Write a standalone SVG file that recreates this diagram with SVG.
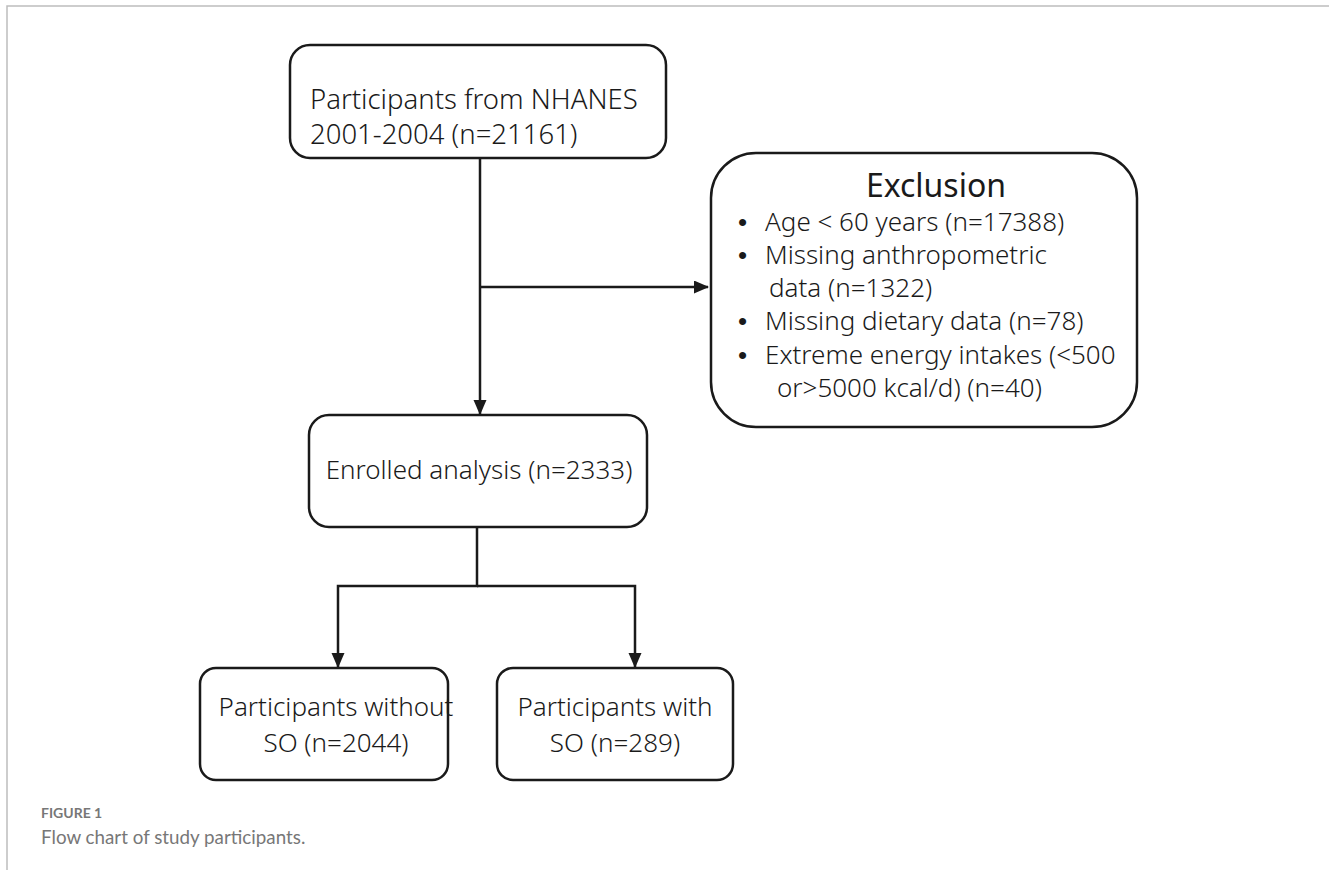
<svg xmlns="http://www.w3.org/2000/svg" width="1329" height="870" viewBox="0 0 1329 870">
<style>
.box{fill:#fff;stroke:#1a1a1a;stroke-width:2.5}
.t{font-family:"Noto Sans","Open Sans","Liberation Sans",sans-serif;font-weight:300;fill:#1a1a1a;font-size:26px}
.big{font-size:27.5px}
.title{font-size:32px;font-weight:400}
.bul{font-family:"Liberation Sans",sans-serif;font-size:26px;fill:#1a1a1a}
.con{stroke:#1a1a1a;stroke-width:2.5;fill:none}
.cap{font-family:"Lato","Open Sans","Liberation Sans",sans-serif;fill:#777}
</style>
<defs>
<marker id="ah" markerWidth="15" markerHeight="14" refX="14" refY="6.5" orient="auto" markerUnits="userSpaceOnUse">
<path d="M0,0 L15,6.5 L0,13 Z" fill="#1a1a1a"/>
</marker>
</defs>
<rect width="1329" height="870" fill="#fff"/>
<path d="M7,870 V6 H1329" fill="none" stroke="#bdbdbd" stroke-width="1.5"/>
<g id="connectors">
<path class="con" d="M480,158 V414" marker-end="url(#ah)"/>
<path class="con" d="M480,287 H708" marker-end="url(#ah)"/>
<path class="con" d="M477,527 V586 H338 V667" marker-end="url(#ah)"/>
<path class="con" d="M477,586 H635 V667" marker-end="url(#ah)"/>
</g>
<g id="n1">
<rect class="box" x="290" y="45" width="376" height="113" rx="20"/>
<text class="t big" x="310" y="109">Participants from NHANES</text>
<text class="t big" x="310" y="144">2001-2004 (n=21161)</text>
</g>
<g id="exclusion">
<rect class="box" x="711" y="153" width="426" height="274" rx="45"/>
<text class="t title" x="936" y="197" text-anchor="middle">Exclusion</text>
<text class="bul" x="738" y="231">•</text><text class="t" x="765" y="231">Age &lt; 60 years (n=17388)</text>
<text class="bul" x="738" y="264">•</text><text class="t" x="765" y="264">Missing anthropometric</text>
<text class="t" x="769" y="297">data (n=1322)</text>
<text class="bul" x="738" y="330">•</text><text class="t" x="765" y="330">Missing dietary data (n=78)</text>
<text class="bul" x="738" y="364">•</text><text class="t" x="765" y="364">Extreme energy intakes (&lt;500</text>
<text class="t" x="777" y="397">or&gt;5000 kcal/d) (n=40)</text>
</g>
<g id="enrolled">
<rect class="box" x="309" y="415" width="338" height="112" rx="20"/>
<text class="t" x="479" y="479" text-anchor="middle">Enrolled analysis (n=2333)</text>
</g>
<g id="without">
<rect class="box" x="200" y="668" width="248" height="112" rx="16"/>
<text class="t" x="336" y="716" text-anchor="middle">Participants without</text>
<text class="t" x="336" y="752" text-anchor="middle">SO (n=2044)</text>
</g>
<g id="with">
<rect class="box" x="497" y="668" width="236" height="112" rx="16"/>
<text class="t" x="615" y="716" text-anchor="middle">Participants with</text>
<text class="t" x="615" y="752" text-anchor="middle">SO (n=289)</text>
</g>
<text class="cap" x="41" y="818" font-size="14" font-weight="700">FIGURE 1</text>
<text class="cap" x="41" y="844" font-size="18.8">Flow chart of study participants.</text>
</svg>
